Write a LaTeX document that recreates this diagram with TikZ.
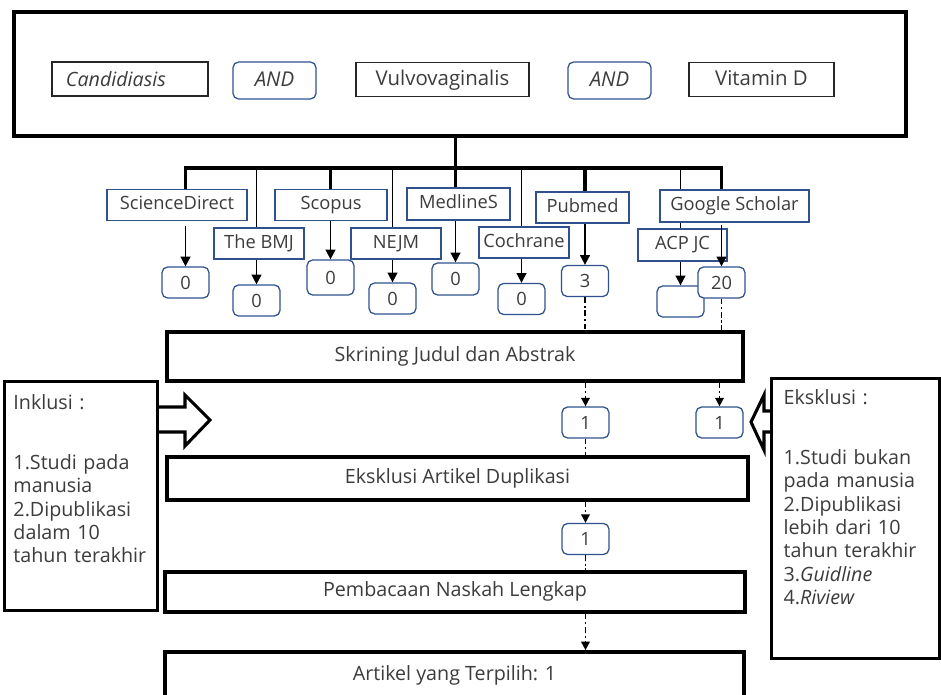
\documentclass[tikz,border=0pt]{standalone}
\usepackage{fontspec}
\setmainfont{Open Sans}
\usetikzlibrary{arrows.meta,backgrounds}
\definecolor{boxblue}{RGB}{47,82,143}
\definecolor{txtgray}{RGB}{60,60,60}

\begin{document}
\begin{tikzpicture}[x=0.025cm, y=-0.025cm, text=txtgray,
  font=\fontsize{13}{16}\selectfont,
  bigbox/.style={draw=black, line width=2.6pt, fill=white, inner sep=0pt},
  termbox/.style={draw=black!85, line width=0.8pt, inner sep=0pt, minimum height=0.85cm,
    text height=11pt, text depth=2pt, font=\fontsize{14.5}{16}\selectfont},
  andbox/.style={draw=boxblue, line width=0.9pt, rounded corners=4pt, inner sep=0pt,
    minimum width=2.075cm, minimum height=0.925cm, text height=11pt, text depth=2pt,
    font=\fontsize{14.5}{16}\selectfont\itshape},
  dbbox/.style={draw=boxblue, line width=0.9pt, fill=white, inner sep=0pt, minimum height=0.775cm,
    text height=9.5pt, text depth=3pt},
  countbox/.style={draw=boxblue, line width=0.9pt, fill=white, rounded corners=4pt, inner sep=0pt,
    minimum width=1.175cm, minimum height=0.775cm},
  stepbox/.style={draw=black, line width=2.6pt, fill=white, inner sep=0pt,
    text height=10pt, text depth=3pt, font=\fontsize{14}{16}\selectfont},
  sidebox/.style={draw=black, line width=2.4pt, fill=white, anchor=north west, align=left,
    inner ysep=0.2cm, font=\fontsize{14}{16.6}\selectfont},
  busline/.style={line width=2.2pt},
  thinline/.style={line width=1.3pt},
  arr/.style={line width=1.3pt, -{Triangle[length=7pt,width=7pt]}},
  dotline/.style={line width=1.2pt, dash pattern=on 4pt off 2pt on 1.5pt off 2pt},
  dotarr/.style={dotline, -{Triangle[length=6pt,width=6pt]}},
  hollow/.style={line width=2.2pt, line join=miter}]
  \useasboundingbox (0,0) rectangle (941,695);

  % kotak kata kunci
  \node[bigbox, minimum width=22.3cm, minimum height=3.1cm] (search) at (460,74) {};
  \node[termbox, minimum width=3.9cm, text height=12pt, font=\fontsize{14}{16}\selectfont\itshape]
    (candida) at (130,79) {\makebox[3.2cm][l]{Candidiasis}};
  \node[andbox] (and1) at (274.5,80.5) {AND};
  \node[termbox, minimum width=4.325cm] (vulvo) at (442.5,79.5) {Vulvovaginalis};
  \node[andbox] (and2) at (609.5,80.5) {AND};
  \node[termbox, minimum width=3.625cm] (vitd) at (761.5,79.5) {Vitamin D};

  % database
  \node[dbbox, minimum width=3.5cm] (sd) at (177,205) {ScienceDirect};
  \node[dbbox, minimum width=2.25cm] (bmj) at (259,243.5) {The BMJ};
  \node[dbbox, minimum width=2.8cm] (scopus) at (331,205) {Scopus};
  \node[dbbox, minimum width=2.25cm] (nejm) at (396,243.5) {NEJM};
  \node[dbbox, minimum width=2.575cm, minimum height=0.8cm] (medline) at (458.5,204) {MedlineS};
  \node[dbbox, minimum width=2.25cm] (cochrane) at (524,242.5) {Cochrane};
  \node[dbbox, minimum width=2.325cm] (pubmed) at (582.5,207.5) {Pubmed};
  \node[dbbox, minimum width=3.725cm, minimum height=0.8cm] (gs) at (734.5,206) {Google Scholar};
  \node[dbbox, minimum width=2.225cm, minimum height=0.8cm] (acp) at (682.5,245) {ACP JC};

  % jumlah hasil
  \node[countbox] (n_sd) at (185.5,282.5) {0};
  \node[countbox] (n_bmj) at (256.5,300.5) {0};
  \node[countbox, minimum height=0.875cm] (n_scopus) at (330.5,277.5) {0};
  \node[countbox] (n_nejm) at (392.5,298.5) {0};
  \node[countbox, minimum height=0.8cm] (n_medline) at (455.5,279) {0};
  \node[countbox] (n_cochrane) at (521.5,299) {0};
  \node[countbox] (n_pubmed) at (585,281) {3};
  \node[countbox] (n_acp) at (680.5,301.5) {};
  \node[countbox] (n_gs) at (721.5,282.5) {20};

  % tahapan
  \node[stepbox, minimum width=14.4cm, minimum height=1.225cm] (screen) at (455,356.5) {Skrining Judul dan Abstrak};
  \node[countbox] (one_a) at (585.5,422.5) {1};
  \node[countbox] (one_b) at (719.5,422.5) {1};
  \node[stepbox, minimum width=14.525cm, minimum height=1.075cm] (dup) at (457.5,478.5) {Eksklusi Artikel Duplikasi};
  \node[countbox] (one_c) at (585.5,539) {1};
  \node[stepbox, minimum width=14.5cm, minimum height=1.0cm] (read) at (455,592) {Pembacaan Naskah Lengkap};
  \node[stepbox, minimum width=14.475cm, minimum height=1.175cm] (final) at (454.5,675.5) {Artikel yang Terpilih: 1};

  % kriteria
  \node[sidebox, inner xsep=0.22cm, text width=3.385cm, text height=0.5cm, text depth=4.825cm]
    (inkl) at (3,380) {Inklusi :\\[26pt]1.Studi pada\\manusia\\2.Dipublikasi\\dalam 10\\tahun terakhir};
  \node[sidebox, inner xsep=0.3cm, text width=3.6cm, text height=0.45cm, text depth=6.15cm]
    (eksk) at (770,377) {Eksklusi :\\[26pt]1.Studi bukan\\pada manusia\\2.Dipublikasi\\lebih dari 10\\tahun terakhir\\3.\textit{Guidline}\\4.\textit{Riview}};

  % panah kosong
  \draw[hollow] (156,407) -- (185,407) -- (185,395) -- (210,420) -- (185,446) -- (185,432) -- (156,432);
  \draw[hollow] (770,411) -- (764,411) -- (764,395) -- (751,422) -- (764,450) -- (764,432) -- (770,432);

  % garis cabang
  \coordinate (bus) at (457,168);
  \begin{pgfonlayer}{background}
    \draw[busline] (search.south -| n_medline.north) -- (n_medline.north |- medline.north);
    \draw[busline, line cap=rect] (n_sd.north |- bus) -- (n_gs.north |- bus);
    \foreach \db in {sd,scopus,pubmed,gs}
      \draw[busline] (n_\db.north |- bus) -- (n_\db.north |- \db.north);
    \foreach \db in {bmj,nejm,cochrane,acp}
      \draw[thinline] (n_\db.north |- bus) -- (n_\db.north |- \db.north);
  \end{pgfonlayer}

  % panah ke jumlah
  \foreach \db in {bmj,scopus,nejm,medline,cochrane,pubmed,acp}
    \draw[arr] (n_\db.north |- \db.south) -- (n_\db.north);
  \draw[arr, shorten <=3.5pt] (n_sd.north |- sd.south) -- (n_sd.north);
  \draw[arr, shorten <=2pt] (n_gs.north |- gs.south) -- (n_gs.north);

  % garis putus-putus
  \draw[dotline] (n_pubmed.south) -- (n_pubmed.south |- screen.north);
  \draw[dotline] (n_gs.south) -- (n_gs.south |- screen.north);
  \draw[dotarr] (one_a.north |- screen.south) -- (one_a.north);
  \draw[dotarr] (one_b.north |- screen.south) -- (one_b.north);
  \draw[dotline] (one_a.south) -- (one_a.south |- dup.north);
  \draw[dotarr] (one_c.north |- dup.south) -- (one_c.north);
  \draw[dotline] (one_c.south) -- (one_c.south |- read.north);
  \draw[dotarr] (one_c.south |- read.south) -- (one_c.south |- final.north);
\end{tikzpicture}
\end{document}
